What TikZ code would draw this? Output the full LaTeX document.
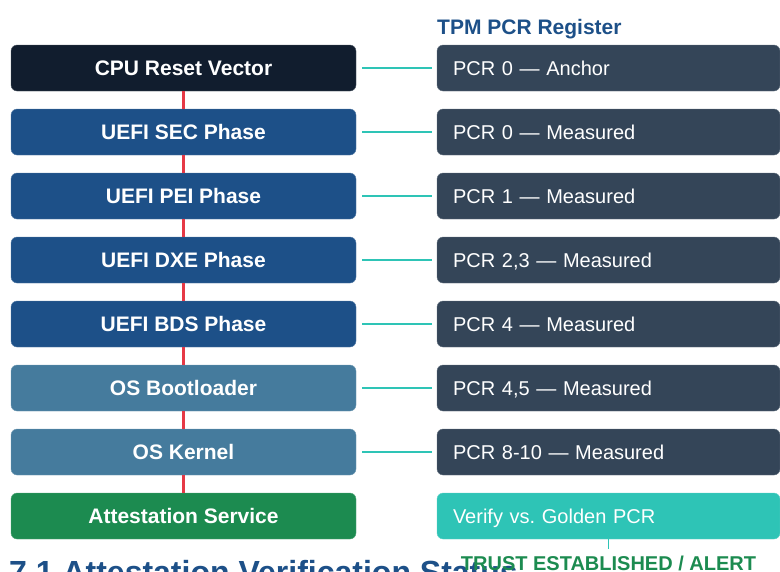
\documentclass[tikz,border=0pt]{standalone}
\usepackage{fontspec}
\setmainfont{Liberation Sans}
\definecolor{mnavy}{HTML}{111D2E}
\definecolor{muefi}{HTML}{1D5088}
\definecolor{mos}{HTML}{457B9D}
\definecolor{mgreen}{HTML}{1C8B50}
\definecolor{mslate}{HTML}{344558}
\definecolor{mteal}{HTML}{2EC4B6}
\definecolor{mred}{HTML}{E63946}
\usetikzlibrary{positioning,calc}
\tikzset{
  stage/.style={rectangle,rounded corners=6pt,fill=#1,draw=#1!75!white,
    minimum width=345pt,minimum height=46pt,inner sep=0pt,outer sep=0pt,
    text height=19pt,text depth=4pt,
    font=\bfseries\fontsize{21}{24}\selectfont,text=white},
  pcr/.style={rectangle,rounded corners=6pt,fill=#1,draw=#1!75!white,
    text width=311pt,inner xsep=16pt,inner ysep=0pt,outer sep=0pt,align=left,
    text height=18.3pt,text depth=4pt,
    minimum height=46pt,font=\fontsize{20}{24}\selectfont,text=white},
  chainln/.style={draw=mred,line width=3pt},
  tap/.style={draw=mteal,line width=1.5pt,shorten <=6pt,shorten >=5pt},
}
\begin{document}
\begin{tikzpicture}[x=1pt,y=-1pt,node distance=18pt and 81pt]
  \useasboundingbox (0,0) rectangle (780,571);
  \clip (0,0) rectangle (780,571);

  % boot chain
  \node[stage=mnavy] (cpu) at (183.5,68) {CPU Reset Vector};
  \node[stage=muefi,below=of cpu] (sec) {UEFI SEC Phase};
  \node[stage=muefi,below=of sec] (pei) {UEFI PEI Phase};
  \node[stage=muefi,below=of pei] (dxe) {UEFI DXE Phase};
  \node[stage=muefi,below=of dxe] (bds) {UEFI BDS Phase};
  \node[stage=mos,below=of bds] (boot) {OS Bootloader};
  \node[stage=mos,below=of boot] (kern) {OS Kernel};
  \node[stage=mgreen,below=of kern] (att) {Attestation Service};

  % PCR column
  \node[pcr=mslate,right=of cpu] (p0) {PCR 0 --- Anchor};
  \node[pcr=mslate,right=of sec] (p1) {PCR 0 --- Measured};
  \node[pcr=mslate,right=of pei] (p2) {PCR 1 --- Measured};
  \node[pcr=mslate,right=of dxe] (p3) {PCR 2,3 --- Measured};
  \node[pcr=mslate,right=of bds] (p4) {PCR 4 --- Measured};
  \node[pcr=mslate,right=of boot] (p5) {PCR 4,5 --- Measured};
  \node[pcr=mslate,right=of kern] (p6) {PCR 8-10 --- Measured};
  \node[pcr=mteal,right=of att] (verify) {Verify vs.\ Golden PCR};

  \node[anchor=base west,inner sep=0pt,text=muefi,
    font=\bfseries\fontsize{21}{24}\selectfont] (ttl) at (437,34) {TPM PCR Register};

  \node[anchor=base west,inner sep=0pt,text=muefi,
    font=\bfseries\fontsize{32}{36}\selectfont] (head) at (9,583)
    {7.1 Attestation Verification Status};
  \node[anchor=base,inner sep=2pt,text=mgreen,
    font=\bfseries\fontsize{20}{24}\selectfont] (verdict) at ($(verify.south)+(0,31)$)
    {TRUST ESTABLISHED / ALERT};

  \foreach \a/\b in {cpu/sec,sec/pei,pei/dxe,dxe/bds,bds/boot,boot/kern,kern/att}
    \draw[chainln] (\a) -- (\b);
  \foreach \a/\b in {cpu/p0,sec/p1,pei/p2,dxe/p3,bds/p4,boot/p5,kern/p6}
    \draw[tap] (\a) -- (\b);
  \draw[draw=mteal,line width=1.5pt,shorten >=4pt] (verify) -- (verdict);
\end{tikzpicture}
\end{document}
